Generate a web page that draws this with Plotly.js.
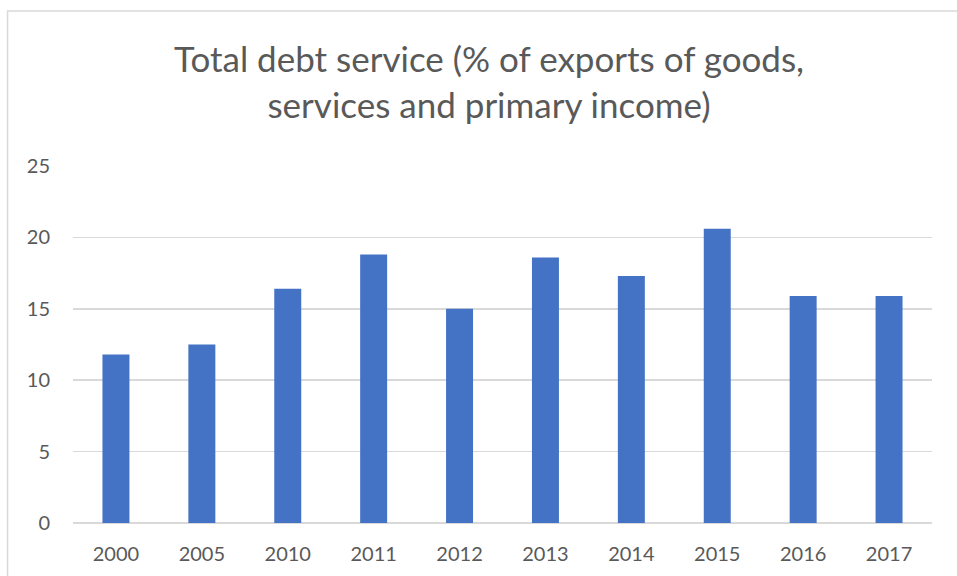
<!DOCTYPE html>
<html>
<head>
<meta charset="utf-8">
<script src="https://cdn.plot.ly/plotly-3.0.1.min.js"></script>
<style>html,body{margin:0;padding:0;background:#fff;}#chart{width:957px;height:576px;}</style>
</head>
<body>
<div id="chart"></div>
<script>
var years = ["2000","2005","2010","2011","2012","2013","2014","2015","2016","2017"];
var debtService = [11.8, 12.5, 16.4, 18.8, 15.0, 18.6, 17.3, 20.6, 15.9, 15.9];
var yTicks = [0, 5, 10, 15, 20, 25];

var trace = {
  type: "bar",
  x: years,
  y: debtService,
  marker: {color: "#4472C4"},
  hoverinfo: "x+y"
};

var layout = {
  width: 957,
  height: 576,
  margin: {l: 72.5, r: 24.5, t: 165.5, b: 52.5},
  paper_bgcolor: "#ffffff",
  plot_bgcolor: "#ffffff",
  bargap: 0.686,
  showlegend: false,
  font: {family: "Lato, 'Open Sans', sans-serif", color: "#595959", size: 20},
  title: {
    text: "Total debt service (% of exports of goods,<br>services and primary income)",
    font: {family: "Lato, 'Open Sans', sans-serif", size: 35, color: "#595959"},
    xref: "container", x: 0.511, xanchor: "center",
    yref: "container", y: 1 - 72/576, yanchor: "top"
  },
  xaxis: {
    type: "category",
    showgrid: false,
    showline: false,
    zeroline: false,
    ticks: "",
    ticklabelstandoff: 17,
    tickfont: {size: 20, color: "#595959"}
  },
  yaxis: {
    range: [0, 25],
    tickvals: yTicks,
    showgrid: true,
    gridcolor: "#d9d9d9",
    gridwidth: 1.5,
    zeroline: true,
    zerolinecolor: "#d9d9d9",
    zerolinewidth: 1.5,
    showline: false,
    ticks: "",
    ticklabelstandoff: 22,
    tickfont: {size: 20, color: "#595959"},
    fixedrange: true
  },
  shapes: [{
    type: "rect", xref: "paper", yref: "paper",
    x0: -0.0762, x1: 1.2, y0: -0.3, y1: 1.434,
    line: {color: "#d9d9d9", width: 1.5},
    fillcolor: "rgba(0,0,0,0)",
    layer: "below"
  }]
};

Plotly.newPlot("chart", [trace], layout, {displayModeBar: false, staticPlot: true});
</script>
</body>
</html>
